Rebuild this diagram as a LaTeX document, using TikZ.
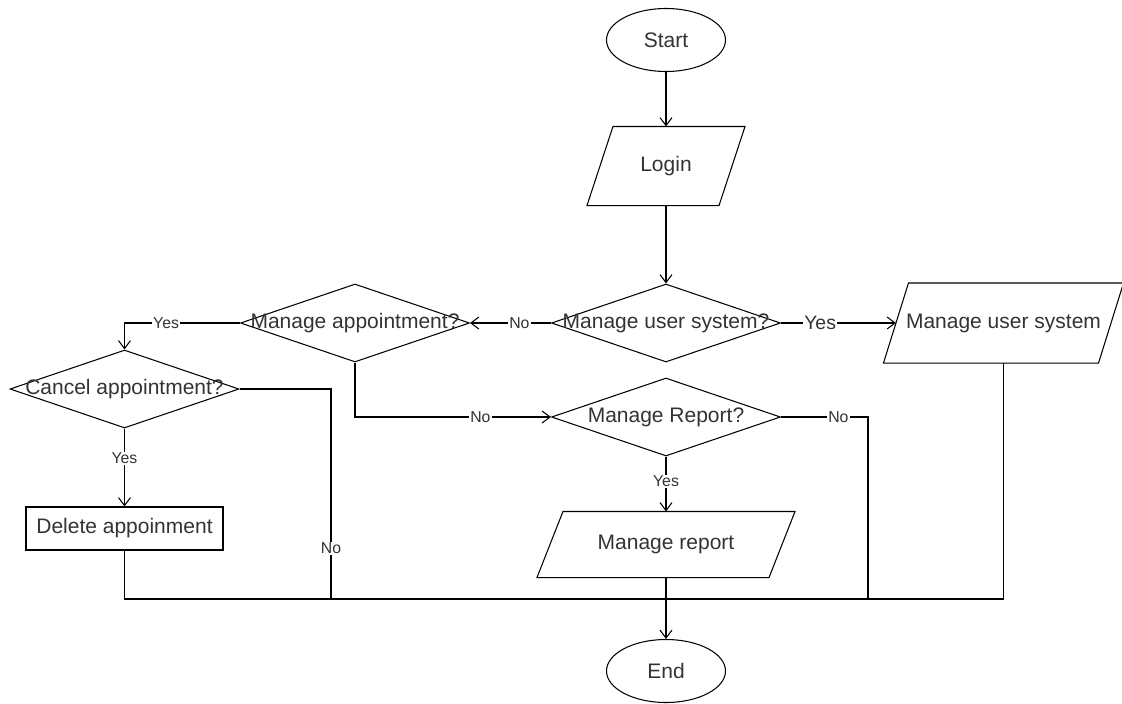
\documentclass[tikz,border=0pt]{standalone}
\usepackage{fontspec}
\setmainfont{Liberation Sans}
\usetikzlibrary{shapes.geometric,arrows.meta}
\begin{document}
\begin{tikzpicture}[x=1pt,y=-1pt,
  line width=1.05pt, line join=miter,
  every node/.style={text=black!80},
  lbl/.style={font=\fontsize{21}{25}\selectfont},
  term/.style={ellipse, draw, minimum width=119pt, minimum height=63pt, inner sep=0pt, lbl},
  dia/.style={diamond, draw, inner sep=0pt, minimum width=229pt, minimum height=78pt},
  para/.style={inner sep=0pt, lbl},
  proc/.style={rectangle, draw, minimum width=197pt, minimum height=43pt, inner sep=0pt, lbl},
  elbl/.style={fill=white, inner sep=1pt, font=\fontsize{15.8}{18}\selectfont},
  elblbig/.style={fill=white, inner sep=1pt, font=\fontsize{19.4}{22}\selectfont},
  arr/.style={-{Straight Barb[length=8pt,width=12pt,line width=1.05pt]}}
]
\useasboundingbox (0,0) rectangle (1122,704);

% terminals
\node[term] (start) at (666,40) {Start};
\node[term] (end) at (666,671) {End};

% parallelograms (invisible boxes + outlines)
\node[para, minimum width=157pt, minimum height=78pt] (login) at (666,166) {Login};
\draw ([xshift=26pt]login.north west) -- (login.north east) -- ([xshift=-26pt]login.south east) -- (login.south west) -- cycle;

\node[para, minimum width=239pt, minimum height=79pt] (mus) at (1003.5,323) {Manage user system};
\draw ([xshift=25pt]mus.north west) -- (mus.north east) -- ([xshift=-25pt]mus.south east) -- (mus.south west) -- cycle;
\coordinate (musw) at ([xshift=12.5pt]mus.west);

\node[para, minimum width=257pt, minimum height=65pt] (mrep) at (666,544.5) {Manage report};
\draw ([xshift=26pt]mrep.north west) -- (mrep.north east) -- ([xshift=-26pt]mrep.south east) -- (mrep.south west) -- cycle;

% decisions
\node[dia] (d1) at (666,323) {};
\node[lbl] (d1t) at (d1) {Manage user system?};
\node[dia] (d2) at (355,323) {};
\node[lbl] (d2t) at (d2) {Manage appointment?};
\node[dia] (d3) at (124.5,389) {};
\node[lbl] (d3t) at (d3) {Cancel appointment?};
\node[dia] (d4) at (666,417) {};
\node[lbl] (d4t) at (d4) {Manage Report?};

% process
\node[proc] (del) at (124.5,528.5) {Delete appoinment};

% junction coordinates on the bottom line
\coordinate (jA) at (124.5,599);
\coordinate (jB) at (331,599);
\coordinate (jD) at (868,599);
\coordinate (jE) at (1003.5,599);

% connectors
\draw[arr] (start) -- (login);
\draw[arr] (login) -- (d1);
\draw[arr] (d1.east) -- node[elblbig, pos=0.34]{Yes} (musw);
\draw[arr] (d1.west) -- node[elbl, pos=0.39]{No} (d2.east);
\draw[arr] (d2.west) -| node[elbl, pos=0.32]{Yes} (d3.north);
\draw (d3.east) -| node[elbl, pos=0.88]{No} (jB);
\draw[arr] (d3.south) -- node[elbl, pos=0.38]{Yes} (del.north);
\draw[arr] (d2.south) |- node[elbl, pos=0.82]{No} (d4.west);
\draw (d4.east) -| node[elbl, pos=0.33]{No} (jD);
\draw[arr] (d4.south) -- node[elbl, pos=0.45]{Yes} (mrep.north);
\draw[arr] (mrep.south) -- (end.north);
\draw (del.south) -- (jA) -- (jE);
\draw (mus.south) -- (jE);
\end{tikzpicture}
\end{document}
